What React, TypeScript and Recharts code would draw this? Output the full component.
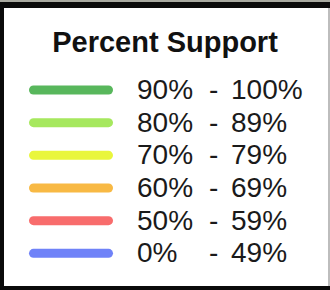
import { BarChart, Bar, XAxis, YAxis, Cell } from 'recharts'

// legend bins (low / high bound) and their swatch colours
const lowBounds = ['90%', '80%', '70%', '60%', '50%', '0%']
const highBounds = ['100%', '89%', '79%', '69%', '59%', '49%']
const binColors = ['#58b75c', '#a6e85e', '#e9f63c', '#f8b944', '#f86c6c', '#6f82f8']
const swatchLength = [1, 1, 1, 1, 1, 1]

const title = 'Percent Support'

const rows = lowBounds.map((lo, i) => ({
  name: `${lo} - ${highBounds[i]}`,
  lo,
  hi: highBounds[i],
  swatch: swatchLength[i],
}))

const FONT = '"Liberation Sans", Arial, Helvetica, sans-serif'

const RangeTick = ({ y, payload }: any) => {
  const row = rows.find((r) => r.name === payload.value)
  if (!row) return null
  return (
    <g fontFamily={FONT} fontSize={28} fill="#1a1a1a">
      <text x={137} y={y} dy="0.33em">{row.lo}</text>
      <text x={209} y={y} dy="0.33em">-</text>
      <text x={231} y={y} dy="0.33em">{row.hi}</text>
    </g>
  )
}

export default function App() {
  return (
    <div style={{ position: 'absolute', left: 0, top: 0, width: 330, height: 290, background: '#fff', overflow: 'hidden' }}>
      <BarChart
        width={330}
        height={290}
        data={rows}
        layout="vertical"
        margin={{ top: 73.5, right: 0, bottom: 20.5, left: 29 }}
        barCategoryGap={0}
      >
        <XAxis type="number" domain={[0, 1]} hide />
        <YAxis
          type="category"
          dataKey="name"
          orientation="right"
          width={217}
          axisLine={false}
          tickLine={false}
          tick={<RangeTick />}
          interval={0}
        />
        <Bar dataKey="swatch" barSize={9} radius={4.5} isAnimationActive={false}>
          {rows.map((r, i) => (
            <Cell key={r.name} fill={binColors[i]} />
          ))}
        </Bar>
      </BarChart>
      <svg width={330} height={290} style={{ position: 'absolute', left: 0, top: 0, pointerEvents: 'none' }}>
        <text x={165} y={52} textAnchor="middle" fontFamily={FONT} fontWeight="bold" fontSize={29} fill="#111">
          {title}
        </text>
        {/* frame */}
        <rect x={0} y={0} width={330} height={2} fill="#a8a9a0" />
        <rect x={0} y={2} width={330} height={6} fill="#0a0a0a" />
        <rect x={0} y={2} width={4} height={288} fill="#0a0a0a" />
        <rect x={0} y={286} width={330} height={4} fill="#0a0a0a" />
        <rect x={328} y={8} width={2} height={278} fill="#bdbdbd" />
      </svg>
    </div>
  )
}
